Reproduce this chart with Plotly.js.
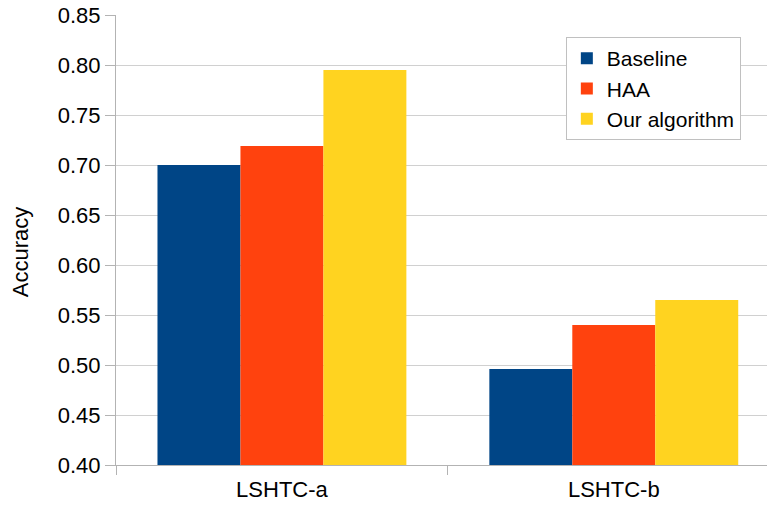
<!DOCTYPE html>
<html>
<head>
<meta charset="utf-8">
<script src="https://cdn.plot.ly/plotly-3.0.1.min.js"></script>
<style>html,body{margin:0;padding:0;background:#fff;}#chart{width:767px;height:507px;}</style>
</head>
<body>
<div id="chart"></div>
<script>
var categories = ["LSHTC-a", "LSHTC-b"];
var seriesNames = ["Baseline", "HAA", "Our algorithm"];
var baseline = [0.700, 0.496];
var haa = [0.719, 0.540];
var ours = [0.795, 0.565];
var yTickVals = [0.40, 0.45, 0.50, 0.55, 0.60, 0.65, 0.70, 0.75, 0.80, 0.85];
var yTickText = ["0.40", "0.45", "0.50", "0.55", "0.60", "0.65", "0.70", "0.75", "0.80", "0.85"];
var yTitle = "Accuracy";
var colors = ["#004586", "#ff420e", "#ffd320"];

var values = [baseline, haa, ours];
var traces = values.map(function (v, i) {
  return {
    type: "bar",
    x: categories,
    y: v,
    name: seriesNames[i],
    marker: { color: colors[i], line: { width: 0 } }
  };
});

var font = "Liberation Sans, Arial, sans-serif";
var layout = {
  width: 767,
  height: 507,
  margin: { l: 116, r: 0, t: 15, b: 42 },
  paper_bgcolor: "#ffffff",
  plot_bgcolor: "#ffffff",
  barmode: "group",
  bargap: 0.25,
  bargroupgap: 0,
  font: { family: font, size: 22, color: "#000000" },
  xaxis: {
    type: "category",
    range: [-0.5, 1.4617],
    showline: true,
    linecolor: "#b3b3b3",
    linewidth: 1,
    ticks: "outside",
    tickson: "boundaries",
    ticklen: 9,
    tickcolor: "#b3b3b3",
    ticklabelstandoff: 5,
    showgrid: false,
    tickfont: { family: font, size: 22, color: "#000" },
    fixedrange: true
  },
  yaxis: {
    range: [0.4, 0.85],
    tickvals: yTickVals,
    ticktext: yTickText,
    showline: true,
    linecolor: "#b3b3b3",
    linewidth: 1,
    ticks: "outside",
    ticklen: 10,
    tickcolor: "#b3b3b3",
    showgrid: true,
    gridcolor: "#d0d0d0",
    gridwidth: 1,
    zeroline: false,
    tickfont: { family: font, size: 22, color: "#000" },
    fixedrange: true
  },
  annotations: [{
    text: yTitle,
    xref: "paper",
    yref: "paper",
    x: -0.1475,
    y: 0.473,
    xanchor: "center",
    yanchor: "middle",
    textangle: -90,
    showarrow: false,
    font: { family: font, size: 22, color: "#000" }
  }],
  legend: {
    x: 0.691,
    y: 0.951,
    xanchor: "left",
    yanchor: "top",
    bgcolor: "#ffffff",
    bordercolor: "#c0c0c0",
    borderwidth: 1,
    font: { family: font, size: 21, color: "#000" },
    traceorder: "normal"
  },
  showlegend: true
};

Plotly.newPlot("chart", traces, layout, { displayModeBar: false, staticPlot: true });
</script>
</body>
</html>
